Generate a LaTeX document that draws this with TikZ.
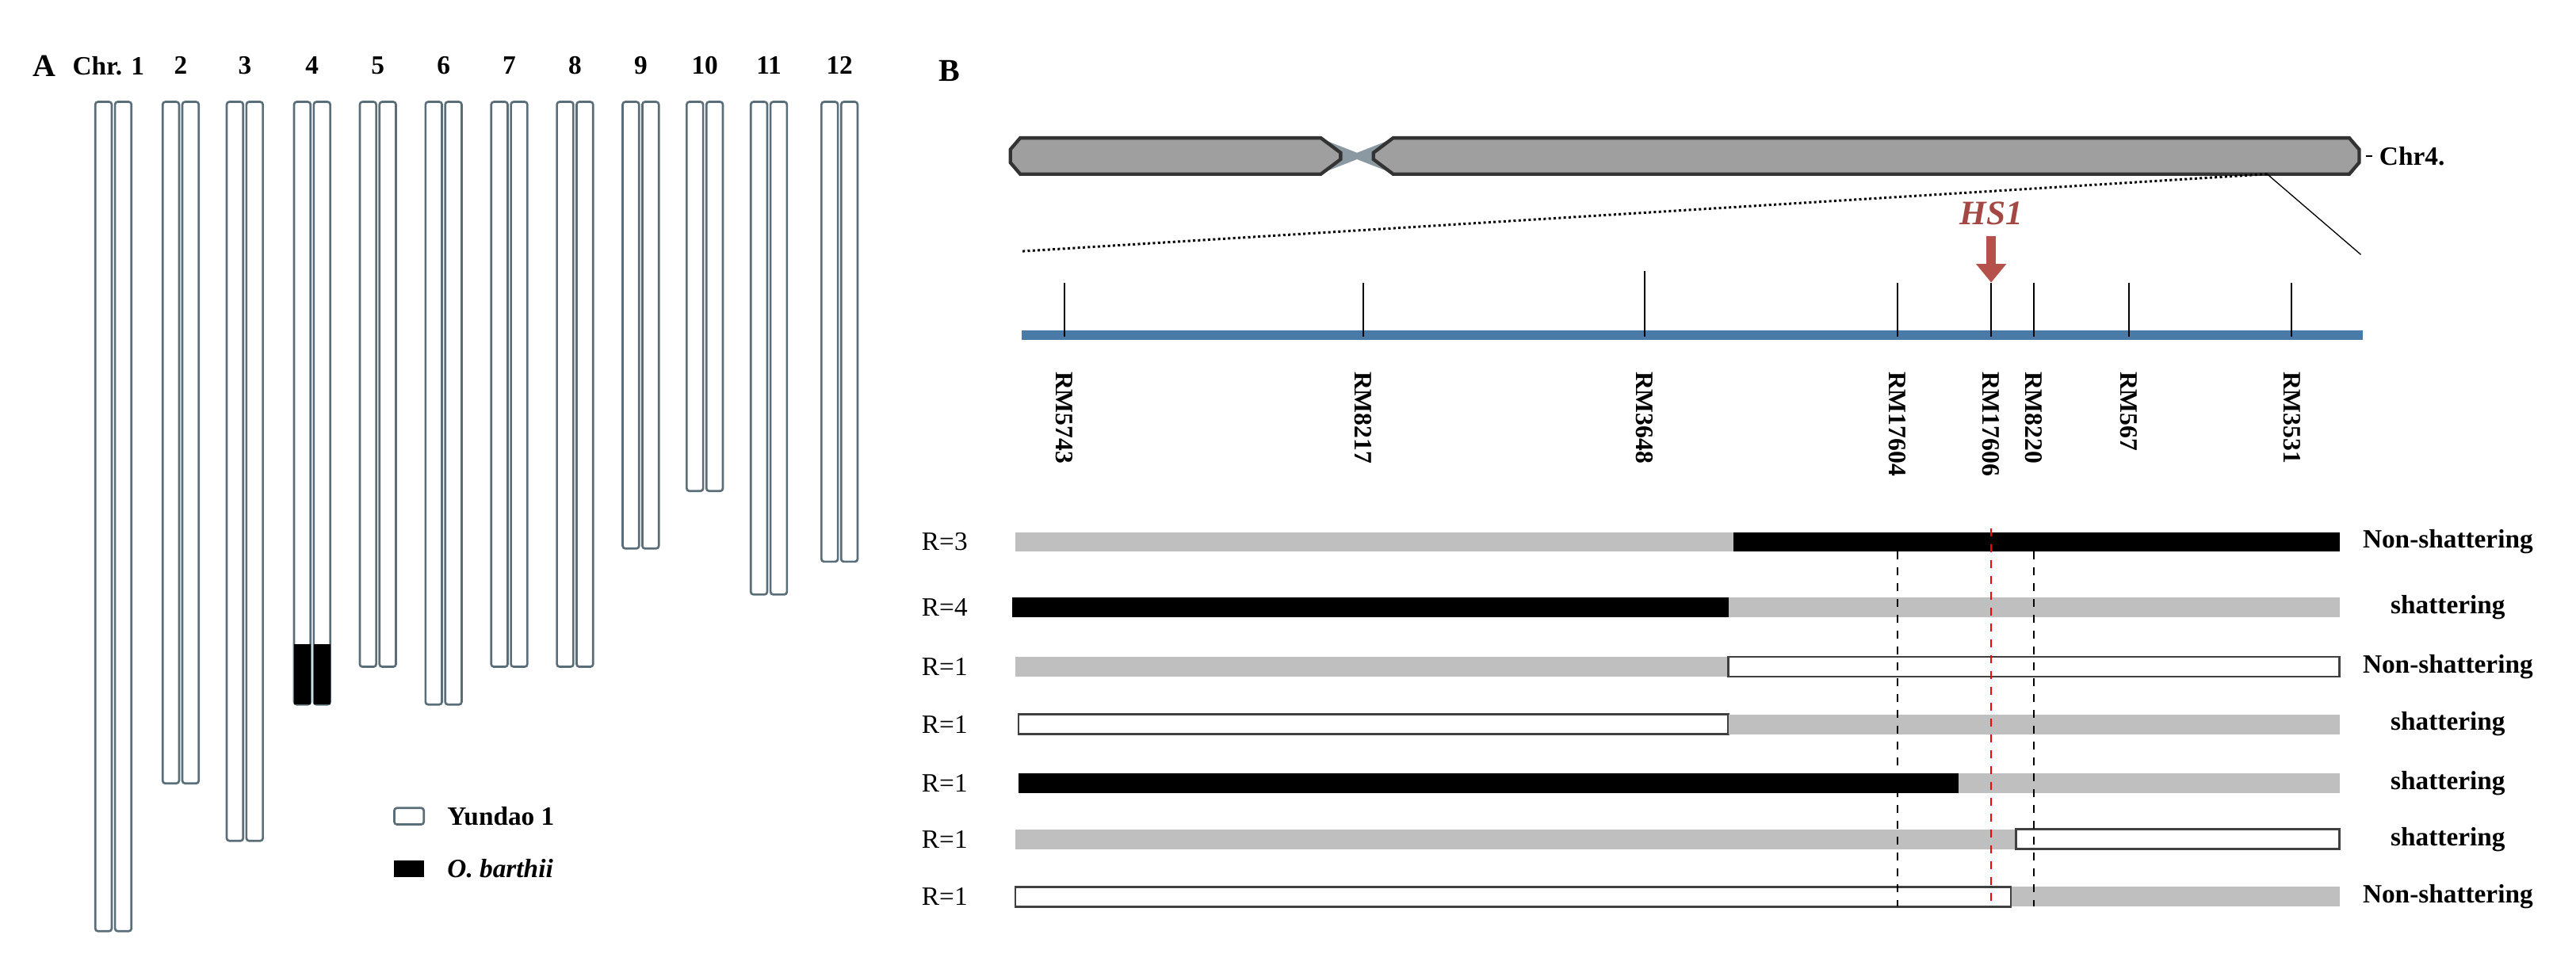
\documentclass[tikz,border=0pt]{standalone}
\usepackage{fontspec}
\setmainfont{Liberation Serif}
\usetikzlibrary{arrows.meta}
\begin{document}
\begin{tikzpicture}[x=0.622pt,y=-0.622pt,
  tube/.style={draw=tubec,line width=0.8pt,fill=white,rounded corners=1pt},
  lab/.style={font=\bfseries\fontsize{10}{12}\selectfont,inner sep=0pt},
  mk/.style={font=\bfseries\fontsize{9.5}{11}\selectfont,rotate=-90,anchor=west,inner sep=0pt},
  wbar/.style={fill=white,draw=black!75,line width=0.8pt}]
\definecolor{tubec}{HTML}{5A6E7A}
\definecolor{barblue}{HTML}{4A7AA8}
\definecolor{hsred}{HTML}{B5504A}
\useasboundingbox (0,0) rectangle (1568,590);
% ---- Panel A ----
\node[lab,font=\bfseries\fontsize{12}{14}\selectfont] (A) at (27,40) {A};
\node[lab] (c1) at (66,40) {Chr. 1};
\foreach \n/\x/\b in {2/110/477,3/149/512,4/190/429,5/230/406,6/270/429,7/310/406,8/350/406,9/390/334,10/429/299,11/468/362,12/511/342}{
  \node[lab] (c\n) at (\x,40) {\n};
  \draw[tube] (\x-11,62) rectangle (\x-1,\b);
  \draw[tube] (\x+1,62) rectangle (\x+11,\b);
}
\draw[tube] (58,62) rectangle (68,567);
\draw[tube] (70,62) rectangle (80,567);
\fill[black] (179,392) rectangle (189,429);
\fill[black] (191,392) rectangle (201,429);
\draw[tube] (240,492) rectangle (258,502);
\node[lab,anchor=west] (ly) at (272,497) {Yundao 1};
\fill[black] (240,524) rectangle (258,534);
\node[lab,anchor=west] (lo) at (272,529) {\itshape O. barthii};
% ---- Panel B ----
\node[lab,font=\bfseries\fontsize{12}{14}\selectfont] (B) at (578,43) {B};
\fill[tubec!70!white] (803,84) -- (826,93) -- (849,84) -- (849,106) -- (826,97) -- (803,106) -- cycle;
\draw[draw=black!80,line width=1.3pt,fill=gray!75] (621,84) -- (804,84) -- (816,93) -- (816,97) -- (804,106) -- (621,106) -- (615,99) -- (615,91) -- cycle;
\draw[draw=black!80,line width=1.3pt,fill=gray!75] (836,93) -- (848,84) -- (1430,84) -- (1436,91) -- (1436,99) -- (1430,106) -- (848,106) -- (836,97) -- cycle;
\node[lab,anchor=west] (chr4) at (1448,95) {Chr4.};
\draw[line width=0.8pt] (1440,95) -- (1444,95);
\coordinate (zs) at (1380,106);
\coordinate (zl) at (622,153);
\coordinate (zr) at (1437,155);
\draw[densely dotted,line width=0.9pt] (zs) -- (zl);
\draw[line width=0.4pt] (zs) -- (zr);
\fill[barblue] (622,201) rectangle (1438,207);
\foreach \nm/\x/\t in {RM5743/648/172,RM8217/830/172,RM3648/1001/165,RM17604/1155/172,RM17606/1212/172,RM8220/1238/172,RM567/1296/172,RM3531/1395/172}{
  \draw[line width=0.6pt] (\x,\t) -- (\x,205);
  \node[mk] (\nm) at (\x,226) {\nm};
}
\node[font=\bfseries\itshape\fontsize{13}{15}\selectfont,text=hsred!90!black,inner sep=0pt] (HS1) at (1212,130) {HS1};
\draw[hsred,line width=3.5pt,-{Triangle[length=7pt,width=11pt]}] (1212,144) -- (1212,172);
% rows
\def\rh{6}
\foreach \y/\r/\t in {330/3/Non-shattering,370/4/shattering,406/1/Non-shattering,441/1/shattering,477/1/shattering,511/1/shattering,546/1/Non-shattering}{
  \node[lab,font=\fontsize{10}{12}\selectfont] (R\y) at (575,\y) {R=\r};
  \node[lab] (S\y) at (1490,\y) {\t};
}
\fill[gray!50] (618,330-\rh) rectangle (1055,330+\rh); \fill[black] (1055,330-\rh) rectangle (1424,330+\rh);
\fill[black] (616,370-\rh) rectangle (1052,370+\rh); \fill[gray!50] (1052,370-\rh) rectangle (1424,370+\rh);
\fill[gray!50] (618,406-\rh) rectangle (1052,406+\rh); \draw[wbar] (1052,406-\rh) rectangle (1424,406+\rh);
\draw[wbar] (620,441-\rh) rectangle (1052,441+\rh); \fill[gray!50] (1052,441-\rh) rectangle (1424,441+\rh);
\fill[black] (620,477-\rh) rectangle (1192,477+\rh); \fill[gray!50] (1192,477-\rh) rectangle (1424,477+\rh);
\fill[gray!50] (618,511-\rh) rectangle (1227,511+\rh); \draw[wbar] (1227,511-\rh) rectangle (1424,511+\rh);
\fill[gray!50] (1224,546-\rh) rectangle (1424,546+\rh); \draw[wbar] (618,546-\rh) rectangle (1224,546+\rh);
\draw[dashed,line width=0.5pt] (1155,336) -- (1155,552);
\draw[dashed,line width=0.5pt] (1238,336) -- (1238,552);
\draw[dashed,red,line width=0.5pt] (1212,322) -- (1212,552);
\end{tikzpicture}
\end{document}
